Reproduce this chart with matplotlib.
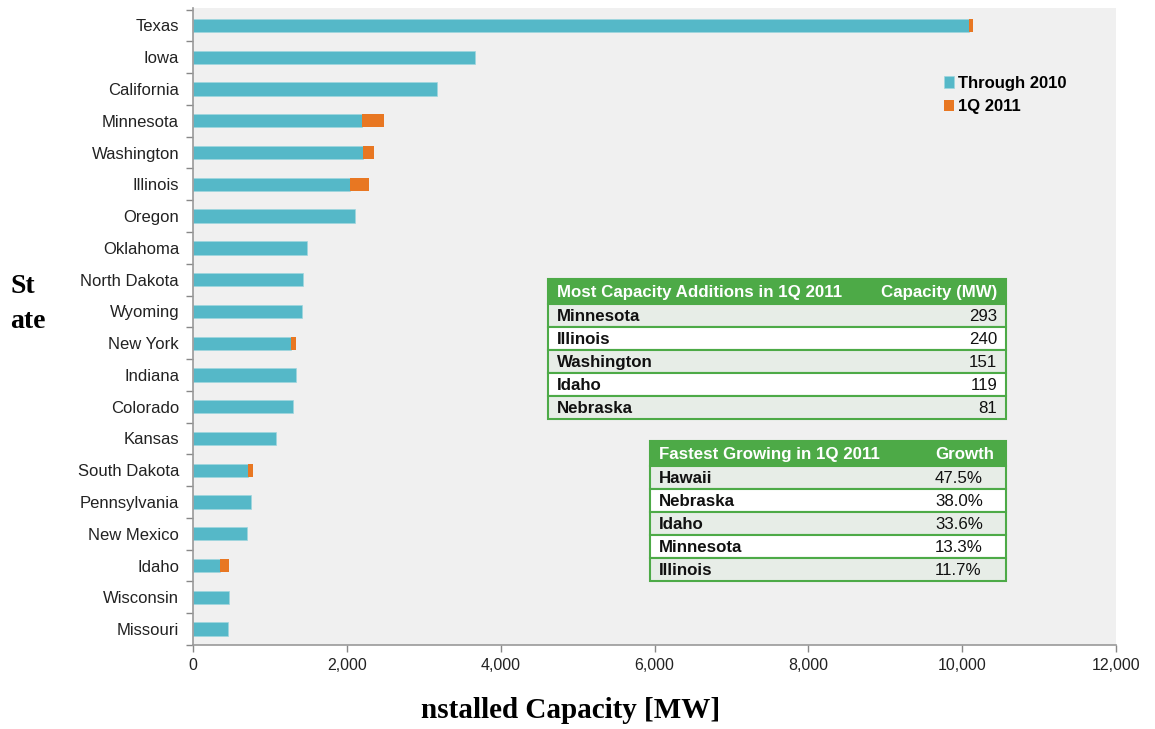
import matplotlib
matplotlib.use("Agg")
import matplotlib.pyplot as plt
from matplotlib.patches import Rectangle
from matplotlib.ticker import FuncFormatter, MultipleLocator
import numpy as np

states = ["Texas", "Iowa", "California", "Minnesota", "Washington", "Illinois",
          "Oregon", "Oklahoma", "North Dakota", "Wyoming", "New York", "Indiana",
          "Colorado", "Kansas", "South Dakota", "Pennsylvania", "New Mexico",
          "Idaho", "Wisconsin", "Missouri"]
through_2010 = [10085, 3670, 3177, 2192, 2204, 2045, 2104, 1482, 1424, 1412,
                1273, 1339, 1299, 1074, 709, 748, 700, 353, 469, 457]
q1_2011 = [50, 0, 0, 293, 151, 240, 0, 0, 0, 0,
           70, 0, 0, 0, 75, 0, 0, 119, 0, 0]

t1_header = ["Most Capacity Additions in 1Q 2011", "Capacity (MW)"]
t1_names = ["Minnesota", "Illinois", "Washington", "Idaho", "Nebraska"]
t1_values = ["293", "240", "151", "119", "81"]

t2_header = ["Fastest Growing in 1Q 2011", "Growth"]
t2_names = ["Hawaii", "Nebraska", "Idaho", "Minnesota", "Illinois"]
t2_values = ["47.5%", "38.0%", "33.6%", "13.3%", "11.7%"]

TEAL = "#55B8C8"
ORANGE = "#E87722"
GREEN = "#4DAA47"
BG = "#F0F0F0"

W, H = 1155, 729
fig = plt.figure(figsize=(W / 100, H / 100), dpi=100)
fig.patch.set_facecolor("white")

def fx(px):
    return px / W

def fy(py):
    return 1 - py / H

ax = fig.add_axes([fx(193), fy(645), fx(1116) - fx(193), fy(8) - fy(645)])
ax.set_facecolor(BG)

y = np.arange(len(states))
ax.barh(y, through_2010, height=0.42, color=TEAL, edgecolor="#9FD6DF",
        linewidth=0.5, label="Through 2010", zorder=2)
ax.barh(y, q1_2011, left=through_2010, height=0.42, color=ORANGE,
        linewidth=0, label="1Q 2011", zorder=2)

ax.set_xlim(0, 12000)
ax.set_ylim(len(states) - 0.5, -0.55)
ax.set_yticks(y)
ax.set_yticklabels(states, fontsize=12, family="Liberation Sans", color="#222222")
ax.set_yticks(np.arange(len(states) + 1) - 0.5, minor=True)
ax.tick_params(axis="y", which="major", length=0, pad=10)
ax.tick_params(axis="y", which="minor", length=5, color="#888888", width=1)
ax.xaxis.set_major_locator(MultipleLocator(2000))
ax.xaxis.set_major_formatter(FuncFormatter(lambda v, p: f"{int(v):,}"))
ax.tick_params(axis="x", which="major", length=5, color="#888888", width=1,
               labelsize=11.5, pad=4, labelcolor="#222222")
for lbl in ax.get_xticklabels():
    lbl.set_family("Liberation Sans")

for s in ["top", "right"]:
    ax.spines[s].set_visible(False)
for s in ["left", "bottom"]:
    ax.spines[s].set_color("#999999")
    ax.spines[s].set_linewidth(1.2)

leg = ax.legend(loc="upper right", frameon=False,
                prop={"family": "Liberation Sans", "weight": "bold", "size": 12},
                handlelength=0.6, handleheight=0.7, handletextpad=0.25,
                labelspacing=0.5, borderaxespad=0, borderpad=0)
leg.set_bbox_to_anchor((fx(1067), fy(76)), transform=fig.transFigure)

# Y and X labels
fig.text(fx(10), fy(286), "St", fontsize=20, fontweight="bold",
         family="Liberation Serif", ha="left", va="center")
fig.text(fx(10), fy(321), "ate", fontsize=20, fontweight="bold",
         family="Liberation Serif", ha="left", va="center")
fig.text(fx(571), fy(711), "nstalled Capacity [MW]", fontsize=21,
         fontweight="bold", family="Liberation Serif", ha="center", va="center")


def draw_table(x0, x1, ytop, header_h, row_h, header, names, values,
               val_x, val_ha):
    fig.patches.append(Rectangle((fx(x0), fy(ytop + header_h)), fx(x1) - fx(x0),
                                 fy(ytop) - fy(ytop + header_h),
                                 transform=fig.transFigure, facecolor=GREEN,
                                 edgecolor=GREEN, linewidth=1.5, zorder=5))
    fig.text(fx(x0 + 9), fy(ytop + header_h / 2 + 1), header[0], color="white",
             fontsize=12.2, fontweight="bold", family="Liberation Sans",
             ha="left", va="center", zorder=7)
    hx = x1 - 9 if val_ha == "right" else val_x
    fig.text(fx(hx), fy(ytop + header_h / 2 + 1), header[1], color="white",
             fontsize=12.2, fontweight="bold", family="Liberation Sans",
             ha=val_ha, va="center", zorder=7)
    for i, (n, v) in enumerate(zip(names, values)):
        r0 = ytop + header_h + i * row_h
        fc = "#E7EDE7" if i % 2 == 0 else "white"
        fig.patches.append(Rectangle((fx(x0), fy(r0 + row_h)), fx(x1) - fx(x0),
                                     fy(r0) - fy(r0 + row_h),
                                     transform=fig.transFigure, facecolor=fc,
                                     edgecolor=GREEN, linewidth=1.5, zorder=5))
        fig.text(fx(x0 + 9), fy(r0 + row_h / 2 + 1), n, color="#111111",
                 fontsize=12.2, fontweight="bold", family="Liberation Sans",
                 ha="left", va="center", zorder=7)
        fig.text(fx(val_x), fy(r0 + row_h / 2 + 1), v, color="#111111",
                 fontsize=12.2, family="Liberation Sans",
                 ha=val_ha, va="center", zorder=7)


draw_table(548, 1006, 279, 25, 23, t1_header, t1_names, t1_values, 997, "right")
draw_table(650, 1006, 441, 25, 23, t2_header, t2_names, t2_values, 935, "left")

fig.savefig("out.png", dpi=100)
